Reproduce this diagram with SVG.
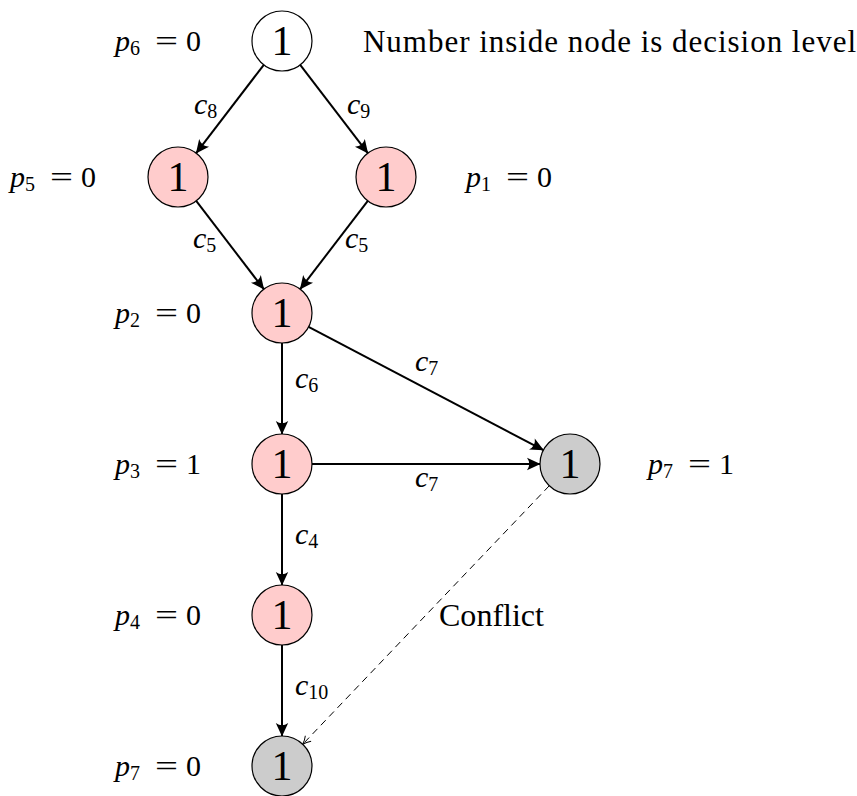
<svg xmlns="http://www.w3.org/2000/svg" width="857" height="796" viewBox="0 0 857 796">
<defs>
<style>
text{font-family:"Liberation Serif","Times New Roman",serif;fill:#000}
.lab{font-size:30px}
.note{font-size:31px}
.sub{font-size:20px}
.num{font-size:42px;text-anchor:middle}
.it{font-style:italic}
.node{stroke:#000;stroke-width:1.2}
.white{fill:#fff}
.pink{fill:#ffcccc}
.grey{fill:#cccccc}
.edge{stroke:#000;stroke-width:2;fill:none}
.dash{stroke:#000;stroke-width:1;fill:none;stroke-dasharray:7,5}
</style>
<marker id="arr" markerUnits="userSpaceOnUse" markerWidth="20" markerHeight="20" refX="14" refY="8" orient="auto" viewBox="0 0 20 16">
<path d="M14.5,8 L1,1.8 Q5.5,8 1,14.2 Z" fill="#000"/>
</marker>
<marker id="arrs" markerUnits="userSpaceOnUse" markerWidth="12" markerHeight="12" refX="9" refY="6" orient="auto" viewBox="0 0 12 12">
<path d="M1,2 Q5,5 9,6 Q5,7 1,10" fill="none" stroke="#000" stroke-width="1"/>
</marker>
</defs>
<rect width="857" height="796" fill="#fff"/>
<g id="connectors">
<line class="edge" x1="263.8" y1="64.8" x2="196.2" y2="153.2" marker-end="url(#arr)"/>
<line class="edge" x1="300.2" y1="64.8" x2="367.8" y2="153.2" marker-end="url(#arr)"/>
<line class="edge" x1="196.2" y1="200.8" x2="263.8" y2="289.2" marker-end="url(#arr)"/>
<line class="edge" x1="367.8" y1="200.8" x2="300.2" y2="289.2" marker-end="url(#arr)"/>
<line class="edge" x1="282" y1="343" x2="282" y2="434" marker-end="url(#arr)"/>
<line class="edge" x1="308.6" y1="326.9" x2="543.4" y2="450.1" marker-end="url(#arr)"/>
<line class="edge" x1="312" y1="464" x2="540" y2="464" marker-end="url(#arr)"/>
<line class="edge" x1="282" y1="494" x2="282" y2="585" marker-end="url(#arr)"/>
<line class="edge" x1="282" y1="645" x2="282" y2="736" marker-end="url(#arr)"/>
<line class="dash" x1="549.3" y1="485.7" x2="302.7" y2="744.3" marker-end="url(#arrs)"/>
<text class="lab" x="194" y="114"><tspan class="it">c</tspan><tspan class="sub" dy="4">8</tspan></text>
<text class="lab" x="347" y="114"><tspan class="it">c</tspan><tspan class="sub" dy="4">9</tspan></text>
<text class="lab" x="193" y="248"><tspan class="it">c</tspan><tspan class="sub" dy="4">5</tspan></text>
<text class="lab" x="345" y="248"><tspan class="it">c</tspan><tspan class="sub" dy="4">5</tspan></text>
<text class="lab" x="295" y="388"><tspan class="it">c</tspan><tspan class="sub" dy="4">6</tspan></text>
<text class="lab" x="415" y="371"><tspan class="it">c</tspan><tspan class="sub" dy="4">7</tspan></text>
<text class="lab" x="415" y="487"><tspan class="it">c</tspan><tspan class="sub" dy="4">7</tspan></text>
<text class="lab" x="295" y="544"><tspan class="it">c</tspan><tspan class="sub" dy="4">4</tspan></text>
<text class="lab" x="295" y="695"><tspan class="it">c</tspan><tspan class="sub" dy="4">10</tspan></text>
<text class="note" x="439" y="626" textLength="105" lengthAdjust="spacingAndGlyphs">Conflict</text>
</g>
<g id="n6"><circle class="node white" cx="282" cy="41" r="30"/><text class="num" x="282" y="55">1</text>
<text class="lab it" x="115" y="51">p</text><text class="sub" x="130" y="55">6</text><text class="lab" x="155" y="51" textLength="23" lengthAdjust="spacingAndGlyphs">=</text><text class="lab" x="186" y="51">0</text></g>
<g id="note"><text class="note" x="363" y="52" textLength="493" lengthAdjust="spacing">Number inside node is decision level</text></g>
<g id="n5"><circle class="node pink" cx="178" cy="177" r="30"/><text class="num" x="178" y="191">1</text>
<text class="lab it" x="10" y="187">p</text><text class="sub" x="25" y="191">5</text><text class="lab" x="50" y="187" textLength="23" lengthAdjust="spacingAndGlyphs">=</text><text class="lab" x="81" y="187">0</text></g>
<g id="n1"><circle class="node pink" cx="386" cy="177" r="30"/><text class="num" x="386" y="191">1</text>
<text class="lab it" x="466" y="187">p</text><text class="sub" x="481" y="191">1</text><text class="lab" x="506" y="187" textLength="23" lengthAdjust="spacingAndGlyphs">=</text><text class="lab" x="537" y="187">0</text></g>
<g id="n2"><circle class="node pink" cx="282" cy="313" r="30"/><text class="num" x="282" y="327">1</text>
<text class="lab it" x="115" y="323">p</text><text class="sub" x="130" y="327">2</text><text class="lab" x="155" y="323" textLength="23" lengthAdjust="spacingAndGlyphs">=</text><text class="lab" x="186" y="323">0</text></g>
<g id="n3"><circle class="node pink" cx="282" cy="464" r="30"/><text class="num" x="282" y="478">1</text>
<text class="lab it" x="115" y="474">p</text><text class="sub" x="130" y="478">3</text><text class="lab" x="155" y="474" textLength="23" lengthAdjust="spacingAndGlyphs">=</text><text class="lab" x="186" y="474">1</text></g>
<g id="n7a"><circle class="node grey" cx="570" cy="464" r="30"/><text class="num" x="570" y="478">1</text>
<text class="lab it" x="648" y="474">p</text><text class="sub" x="663" y="478">7</text><text class="lab" x="688" y="474" textLength="23" lengthAdjust="spacingAndGlyphs">=</text><text class="lab" x="719" y="474">1</text></g>
<g id="n4"><circle class="node pink" cx="282" cy="615" r="30"/><text class="num" x="282" y="629">1</text>
<text class="lab it" x="115" y="625">p</text><text class="sub" x="130" y="629">4</text><text class="lab" x="155" y="625" textLength="23" lengthAdjust="spacingAndGlyphs">=</text><text class="lab" x="186" y="625">0</text></g>
<g id="n7b"><circle class="node grey" cx="282" cy="766" r="30"/><text class="num" x="282" y="780">1</text>
<text class="lab it" x="115" y="776">p</text><text class="sub" x="130" y="780">7</text><text class="lab" x="155" y="776" textLength="23" lengthAdjust="spacingAndGlyphs">=</text><text class="lab" x="186" y="776">0</text></g>
</svg>
